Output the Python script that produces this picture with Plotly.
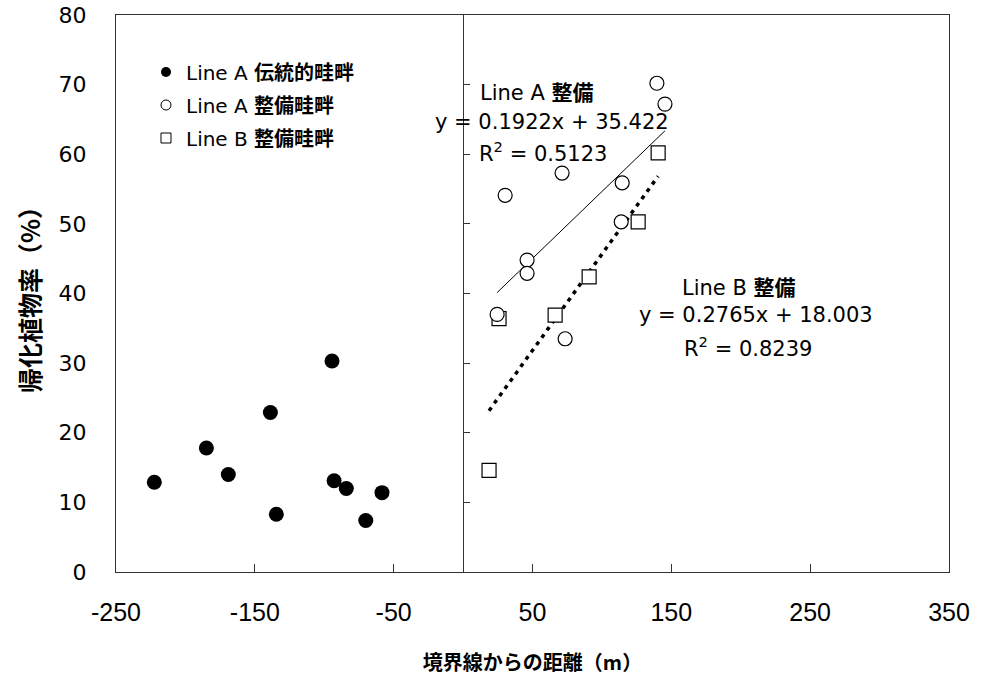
import plotly.graph_objects as go

# ---- data ----
trad_x = [-222.4, -184.9, -169.1, -138.8, -134.5, -94.4, -92.9, -84.1, -70.1, -58.4]
trad_y = [12.9, 17.8, 14.0, 22.9, 8.3, 30.3, 13.1, 12.0, 7.4, 11.4]

a_x = [139.6, 145.4, 71.3, 30.3, 114.6, 113.9, 46.1, 46.1, 24.5, 73.5]
a_y = [70.2, 67.2, 57.3, 54.1, 55.9, 50.3, 44.8, 42.9, 37.0, 33.5]

b_x = [140.5, 126.1, 90.8, 66.3, 25.9, 18.7]
b_y = [60.2, 50.3, 42.4, 36.9, 36.4, 14.6]

fit_a = (0.1922, 35.422)
fit_b = (0.2765, 18.003)

x_ticks = [-250, -150, -50, 50, 150, 250, 350]
y_ticks = [0, 10, 20, 30, 40, 50, 60, 70, 80]

names = ["Line A <b>伝統的畦畔</b>", "Line A <b>整備畦畔</b>", "Line B <b>整備畦畔</b>"]

def fit_line(xs, coef):
    lo, hi = min(xs), max(xs)
    return [lo, hi], [coef[0] * lo + coef[1], coef[0] * hi + coef[1]]

CJK = "'Noto Sans CJK JP'"
TXT = "'DejaVu Sans', " + CJK

fig = go.Figure()

la_x, la_y = fit_line(a_x, fit_a)
lb_x, lb_y = fit_line(b_x, fit_b)

fig.add_trace(go.Scatter(x=la_x, y=la_y, mode="lines",
                         line=dict(color="black", width=1), showlegend=False, hoverinfo="skip"))
fig.add_trace(go.Scatter(x=lb_x, y=lb_y, mode="lines",
                         line=dict(color="black", width=3.5, dash="4px,5px"),
                         showlegend=False, hoverinfo="skip"))

fig.add_trace(go.Scatter(x=trad_x, y=trad_y, mode="markers", showlegend=False,
                         marker=dict(symbol="circle", size=15, color="black")))
fig.add_trace(go.Scatter(x=a_x, y=a_y, mode="markers", showlegend=False, yaxis="y2",
                         marker=dict(symbol="circle", size=14, color="white",
                                     line=dict(color="black", width=1.2))))
fig.add_trace(go.Scatter(x=b_x, y=b_y, mode="markers", showlegend=False,
                         marker=dict(symbol="square", size=14, color="white",
                                     line=dict(color="black", width=1.2))))

# legend-only entries
leg_specs = [
    (names[0], dict(symbol="circle", size=10, color="black"), "legend"),
    (names[1], dict(symbol="circle-open", size=10, color="black", line=dict(width=1)), "legend2"),
    (names[2], dict(symbol="square-open", size=10, color="black", line=dict(width=1)), "legend3"),
]
for nm, mk, lg in leg_specs:
    fig.add_trace(go.Scatter(x=[None], y=[None], mode="markers", name=nm,
                             marker=mk, legend=lg))

leg_common = dict(font=dict(family=TXT, size=20, color="black"),
                  bgcolor="rgba(0,0,0,0)", borderwidth=0, xanchor="left",
                  yanchor="middle", x=0.036, itemwidth=30)

axis_line = dict(showline=True, linecolor="#333", linewidth=1, mirror=True,
                 showgrid=False, zeroline=False, automargin=False)

fig.update_layout(
    width=982, height=683,
    margin=dict(l=116, r=33, t=15, b=111),
    paper_bgcolor="white", plot_bgcolor="white",
    legend=dict(leg_common, y=(572 - 72) / 557),
    legend2=dict(leg_common, y=(572 - 105) / 557),
    legend3=dict(leg_common, y=(572 - 138) / 557),
    xaxis=dict(axis_line, range=[-250, 350], tickvals=x_ticks,
               ticktext=[str(v) for v in x_ticks],
               ticks="inside", ticklen=8, tickcolor="#333",
               ticklabelstandoff=18,
               tickfont=dict(family="'Liberation Sans Narrow', 'Liberation Sans'", size=25, color="black"),
               title=dict(text="<b>境界線からの距離（m）</b>", standoff=30,
                          font=dict(family=CJK, size=20, color="black"))),
    yaxis=dict(axis_line, range=[0, 80], tickvals=y_ticks, ticks="",
               ticklabelstandoff=24,
               tickfont=dict(family="'DejaVu Sans'", size=22, color="black"),
               title=dict(text="<b>帰化植物率（%）</b>", standoff=10,
                          font=dict(family=CJK, size=25, color="black"))),
    yaxis2=dict(overlaying="y", anchor="free", position=250 / 600, side="left",
                range=[0, 80], tickvals=y_ticks, ticks="inside", ticklen=6,
                tickcolor="#333", showticklabels=False, showline=True,
                linecolor="#333", linewidth=1, showgrid=False, zeroline=False,
                automargin=False),
)

ann_font = dict(family=TXT, size=21, color="black")
anns = [
    (10.8, 68.8, "Line A <b>整備</b>"),
    (-21.6, 64.6, "y = 0.1922x + 35.422"),
    (10.1, 60.3, "R<sup>2</sup> = 0.5123"),
    (156.3, 40.8, "Line B <b>整備</b>"),
    (125.4, 36.9, "y = 0.2765x + 18.003"),
    (157.8, 32.3, "R<sup>2</sup> = 0.8239"),
]
for ax_, ay_, t in anns:
    fig.add_annotation(x=ax_, y=ay_, xref="x", yref="y", text=t, showarrow=False,
                       xanchor="left", yanchor="middle", font=ann_font)

fig.write_html("out.html", config={"displayModeBar": False},
               post_script="document.body.style.margin='0';document.body.style.padding='0';")
